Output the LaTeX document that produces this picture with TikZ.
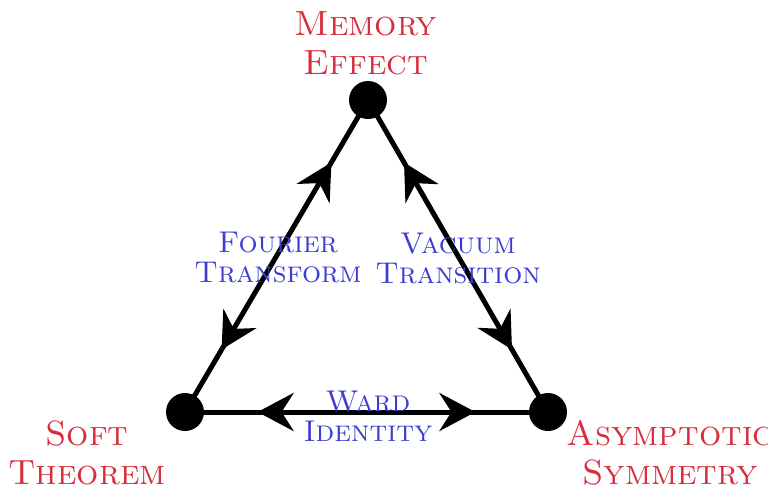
\documentclass[tikz,border=0pt]{standalone}
\usetikzlibrary{arrows.meta,decorations.markings}
\definecolor{vred}{RGB}{215,45,60}
\definecolor{eblue}{RGB}{60,60,210}
\tikzset{
  dot/.style={circle,fill=black,inner sep=0pt,minimum size=19pt},
  vlabel/.style={text=vred,align=center,inner sep=0pt,font=\fontsize{17.5}{19.5}\selectfont\scshape},
  elabel/.style={text=eblue,align=center,inner sep=0pt,font=\fontsize{15}{15}\selectfont\scshape},
  tip/.tip={Stealth[length=18pt,width=19pt,inset=6pt]},
  edge/.style={line width=2.5pt,postaction={decorate},decoration={markings,
     mark=at position 0.2 with {\arrowreversed{tip}},
     mark=at position 0.8 with {\arrow{tip}}}}
}
\begin{document}
\begin{tikzpicture}[x=0.5pt,y=-0.5pt]
\useasboundingbox (0,0) rectangle (768,493);
\clip (0,0) rectangle (768,493);
\node[dot] (M) at (368,100) {};
\node[dot] (S) at (185,412) {};
\node[dot] (A) at (548,412) {};
\draw[edge] (M.center) -- (S.center);
\draw[edge] (M.center) -- (A.center);
\draw[edge] (S.center) -- (A.center);
\node[vlabel] (ml) at (366,43) {Memory\\Effect};
\node[vlabel] (sl) at (87,453) {Soft\\Theorem};
\node[vlabel] (al) at (670,453) {Asymptotic\\Symmetry};
\node[elabel] (fl) at (278,258) {Fourier\\Transform};
\node[elabel] (vl) at (458,258) {Vacuum\\Transition};
\node[elabel] (wl) at (368,416) {Ward\\Identity};
\end{tikzpicture}
\end{document}
